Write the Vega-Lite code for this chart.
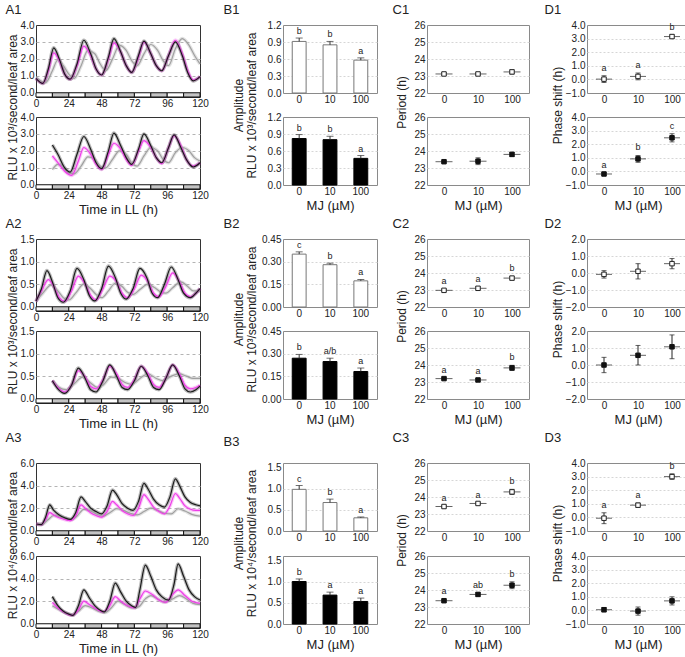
{
"$schema":"https://vega.github.io/schema/vega-lite/v6.json",
"padding":{"left":5,"top":3,"right":2,"bottom":2},
"config":{
 "font":"Liberation Sans",
 "view":{"stroke":"#8a8a8a"},
 "axis":{"labelFont":"Liberation Sans","labelFontSize":10,"labelColor":"#222","titleFont":"Liberation Sans","titleFontWeight":"normal","titleColor":"#222","domain":false,"ticks":false,"labelPadding":2,"labelOverlap":false,"labelFlush":false,"tickCount":20,"gridColor":"#d6d6d6","gridDash":[2,2],"gridWidth":1},
 "axisX":{"grid":false,"labelAngle":0,"titleFontSize":13,"titlePadding":3,"labelPadding":1},
 "axisY":{"titleFontSize":12},
 "title":{"fontSize":13,"fontWeight":"normal","anchor":"start","color":"#222","font":"Liberation Sans","offset":3}
},
"datasets":{
 "strip":[{"s":0,"e":12,"c":"d"},{"s":12,"e":24,"c":"n"},{"s":24,"e":36,"c":"d"},{"s":36,"e":48,"c":"n"},{"s":48,"e":60,"c":"d"},{"s":60,"e":72,"c":"n"},{"s":72,"e":84,"c":"d"},{"s":84,"e":96,"c":"n"},{"s":96,"e":108,"c":"d"},{"s":108,"e":120,"c":"n"}],
 "A1t":[
  {"g":"100","t":0,"v":0.9},{"g":"100","t":7,"v":0.6},{"g":"100","t":12,"v":1.3},{"g":"100","t":16,"v":1.95},{"g":"100","t":20,"v":1.6},{"g":"100","t":24,"v":1.1},{"g":"100","t":28,"v":0.85},{"g":"100","t":33,"v":1.6},{"g":"100","t":38,"v":2.5},{"g":"100","t":43,"v":2.3},{"g":"100","t":47,"v":1.7},{"g":"100","t":51,"v":1.3},{"g":"100","t":56,"v":2.0},{"g":"100","t":61,"v":2.8},{"g":"100","t":66,"v":2.5},{"g":"100","t":70,"v":1.9},{"g":"100","t":74,"v":1.6},{"g":"100","t":79,"v":2.3},{"g":"100","t":84,"v":2.85},{"g":"100","t":89,"v":2.5},{"g":"100","t":93,"v":1.9},{"g":"100","t":97,"v":1.6},{"g":"100","t":102,"v":2.6},{"g":"100","t":107,"v":3.2},{"g":"100","t":112,"v":2.8},{"g":"100","t":116,"v":2.2},{"g":"100","t":120,"v":1.7},
  {"g":"10","t":0,"v":0.85},{"g":"10","t":5,"v":0.55},{"g":"10","t":9,"v":1.3},{"g":"10","t":13,"v":2.35},{"g":"10","t":17,"v":1.9},{"g":"10","t":21,"v":1.1},{"g":"10","t":25,"v":0.8},{"g":"10","t":30,"v":1.6},{"g":"10","t":35,"v":2.75},{"g":"10","t":40,"v":2.2},{"g":"10","t":44,"v":1.4},{"g":"10","t":48,"v":1.05},{"g":"10","t":53,"v":2.0},{"g":"10","t":57,"v":2.95},{"g":"10","t":62,"v":2.4},{"g":"10","t":66,"v":1.6},{"g":"10","t":70,"v":1.2},{"g":"10","t":75,"v":2.1},{"g":"10","t":79,"v":3.0},{"g":"10","t":84,"v":2.3},{"g":"10","t":88,"v":1.6},{"g":"10","t":92,"v":1.3},{"g":"10","t":97,"v":2.2},{"g":"10","t":102,"v":3.1},{"g":"10","t":107,"v":2.3},{"g":"10","t":111,"v":1.3},{"g":"10","t":115,"v":0.75},{"g":"10","t":120,"v":0.95},
  {"g":"0","t":0,"v":0.85},{"g":"0","t":5,"v":0.55},{"g":"0","t":9,"v":1.4},{"g":"0","t":13,"v":2.65},{"g":"0","t":17,"v":2.0},{"g":"0","t":21,"v":1.1},{"g":"0","t":25,"v":0.8},{"g":"0","t":30,"v":1.7},{"g":"0","t":35,"v":3.1},{"g":"0","t":40,"v":2.3},{"g":"0","t":44,"v":1.4},{"g":"0","t":48,"v":1.05},{"g":"0","t":53,"v":2.1},{"g":"0","t":57,"v":3.2},{"g":"0","t":62,"v":2.4},{"g":"0","t":66,"v":1.6},{"g":"0","t":70,"v":1.2},{"g":"0","t":75,"v":2.2},{"g":"0","t":79,"v":3.05},{"g":"0","t":84,"v":2.3},{"g":"0","t":88,"v":1.6},{"g":"0","t":92,"v":1.3},{"g":"0","t":97,"v":2.2},{"g":"0","t":102,"v":3.0},{"g":"0","t":107,"v":2.2},{"g":"0","t":111,"v":1.2},{"g":"0","t":115,"v":0.7},{"g":"0","t":120,"v":0.95}
 ],
 "A1b":[
  {"g":"100","t":12,"v":0.9},{"g":"100","t":16,"v":1.2},{"g":"100","t":20,"v":1.05},{"g":"100","t":24,"v":0.7},{"g":"100","t":28,"v":0.65},{"g":"100","t":33,"v":1.1},{"g":"100","t":38,"v":1.65},{"g":"100","t":43,"v":1.5},{"g":"100","t":47,"v":1.1},{"g":"100","t":51,"v":1.0},{"g":"100","t":56,"v":1.5},{"g":"100","t":61,"v":2.0},{"g":"100","t":66,"v":1.8},{"g":"100","t":70,"v":1.3},{"g":"100","t":74,"v":1.1},{"g":"100","t":79,"v":1.7},{"g":"100","t":84,"v":2.2},{"g":"100","t":89,"v":2.0},{"g":"100","t":93,"v":1.5},{"g":"100","t":97,"v":1.3},{"g":"100","t":102,"v":1.9},{"g":"100","t":107,"v":2.2},{"g":"100","t":112,"v":2.0},{"g":"100","t":116,"v":1.6},{"g":"100","t":120,"v":1.4},
  {"g":"10","t":12,"v":1.7},{"g":"10","t":16,"v":1.3},{"g":"10","t":21,"v":0.8},{"g":"10","t":26,"v":0.55},{"g":"10","t":31,"v":1.4},{"g":"10","t":35,"v":2.2},{"g":"10","t":40,"v":1.8},{"g":"10","t":44,"v":1.2},{"g":"10","t":48,"v":0.9},{"g":"10","t":53,"v":1.8},{"g":"10","t":57,"v":2.45},{"g":"10","t":62,"v":2.1},{"g":"10","t":66,"v":1.5},{"g":"10","t":70,"v":1.15},{"g":"10","t":75,"v":2.0},{"g":"10","t":79,"v":2.6},{"g":"10","t":84,"v":2.2},{"g":"10","t":88,"v":1.6},{"g":"10","t":92,"v":1.25},{"g":"10","t":97,"v":2.2},{"g":"10","t":101,"v":2.9},{"g":"10","t":106,"v":2.3},{"g":"10","t":110,"v":1.5},{"g":"10","t":115,"v":1.1},{"g":"10","t":120,"v":1.3},
  {"g":"0","t":12,"v":2.35},{"g":"0","t":16,"v":1.8},{"g":"0","t":21,"v":1.0},{"g":"0","t":25,"v":0.75},{"g":"0","t":30,"v":1.8},{"g":"0","t":35,"v":2.85},{"g":"0","t":40,"v":2.1},{"g":"0","t":44,"v":1.3},{"g":"0","t":48,"v":0.95},{"g":"0","t":53,"v":2.0},{"g":"0","t":57,"v":3.05},{"g":"0","t":62,"v":2.3},{"g":"0","t":66,"v":1.6},{"g":"0","t":70,"v":1.2},{"g":"0","t":75,"v":2.1},{"g":"0","t":79,"v":3.0},{"g":"0","t":84,"v":2.3},{"g":"0","t":88,"v":1.6},{"g":"0","t":92,"v":1.3},{"g":"0","t":97,"v":2.2},{"g":"0","t":101,"v":2.95},{"g":"0","t":106,"v":2.2},{"g":"0","t":110,"v":1.5},{"g":"0","t":115,"v":1.05},{"g":"0","t":120,"v":1.3}
 ],
 "A2t":[
  {"g":"100","t":0,"v":0.12},{"g":"100","t":5,"v":0.3},{"g":"100","t":11,"v":0.48},{"g":"100","t":16,"v":0.35},{"g":"100","t":20,"v":0.2},{"g":"100","t":24,"v":0.15},{"g":"100","t":29,"v":0.3},{"g":"100","t":35,"v":0.5},{"g":"100","t":40,"v":0.4},{"g":"100","t":44,"v":0.27},{"g":"100","t":48,"v":0.2},{"g":"100","t":53,"v":0.35},{"g":"100","t":58,"v":0.52},{"g":"100","t":63,"v":0.45},{"g":"100","t":67,"v":0.32},{"g":"100","t":71,"v":0.27},{"g":"100","t":76,"v":0.38},{"g":"100","t":82,"v":0.5},{"g":"100","t":87,"v":0.42},{"g":"100","t":91,"v":0.33},{"g":"100","t":95,"v":0.3},{"g":"100","t":100,"v":0.42},{"g":"100","t":106,"v":0.55},{"g":"100","t":111,"v":0.45},{"g":"100","t":115,"v":0.35},{"g":"100","t":120,"v":0.35},
  {"g":"10","t":0,"v":0.12},{"g":"10","t":4,"v":0.35},{"g":"10","t":9,"v":0.6},{"g":"10","t":13,"v":0.45},{"g":"10","t":17,"v":0.2},{"g":"10","t":21,"v":0.12},{"g":"10","t":26,"v":0.35},{"g":"10","t":31,"v":0.68},{"g":"10","t":36,"v":0.5},{"g":"10","t":40,"v":0.25},{"g":"10","t":44,"v":0.15},{"g":"10","t":49,"v":0.4},{"g":"10","t":54,"v":0.68},{"g":"10","t":59,"v":0.55},{"g":"10","t":63,"v":0.3},{"g":"10","t":67,"v":0.2},{"g":"10","t":72,"v":0.4},{"g":"10","t":77,"v":0.7},{"g":"10","t":82,"v":0.55},{"g":"10","t":86,"v":0.3},{"g":"10","t":90,"v":0.22},{"g":"10","t":95,"v":0.45},{"g":"10","t":100,"v":0.75},{"g":"10","t":105,"v":0.55},{"g":"10","t":109,"v":0.3},{"g":"10","t":113,"v":0.22},{"g":"10","t":117,"v":0.3},{"g":"10","t":120,"v":0.4},
  {"g":"0","t":0,"v":0.12},{"g":"0","t":4,"v":0.4},{"g":"0","t":8,"v":0.8},{"g":"0","t":12,"v":0.55},{"g":"0","t":16,"v":0.2},{"g":"0","t":20,"v":0.1},{"g":"0","t":25,"v":0.35},{"g":"0","t":30,"v":0.85},{"g":"0","t":35,"v":0.6},{"g":"0","t":39,"v":0.25},{"g":"0","t":43,"v":0.13},{"g":"0","t":48,"v":0.4},{"g":"0","t":53,"v":0.9},{"g":"0","t":58,"v":0.65},{"g":"0","t":62,"v":0.3},{"g":"0","t":66,"v":0.17},{"g":"0","t":71,"v":0.4},{"g":"0","t":76,"v":0.85},{"g":"0","t":81,"v":0.65},{"g":"0","t":85,"v":0.3},{"g":"0","t":89,"v":0.2},{"g":"0","t":94,"v":0.5},{"g":"0","t":99,"v":0.88},{"g":"0","t":104,"v":0.6},{"g":"0","t":108,"v":0.3},{"g":"0","t":113,"v":0.2},{"g":"0","t":117,"v":0.3},{"g":"0","t":120,"v":0.4}
 ],
 "A2b":[
  {"g":"100","t":12,"v":0.4},{"g":"100","t":17,"v":0.25},{"g":"100","t":22,"v":0.2},{"g":"100","t":28,"v":0.33},{"g":"100","t":34,"v":0.48},{"g":"100","t":40,"v":0.35},{"g":"100","t":45,"v":0.25},{"g":"100","t":49,"v":0.3},{"g":"100","t":55,"v":0.48},{"g":"100","t":60,"v":0.45},{"g":"100","t":66,"v":0.35},{"g":"100","t":70,"v":0.32},{"g":"100","t":76,"v":0.45},{"g":"100","t":82,"v":0.55},{"g":"100","t":88,"v":0.45},{"g":"100","t":93,"v":0.4},{"g":"100","t":99,"v":0.5},{"g":"100","t":105,"v":0.55},{"g":"100","t":110,"v":0.5},{"g":"100","t":115,"v":0.45},{"g":"100","t":120,"v":0.45},
  {"g":"10","t":12,"v":0.4},{"g":"10","t":16,"v":0.25},{"g":"10","t":21,"v":0.15},{"g":"10","t":26,"v":0.3},{"g":"10","t":31,"v":0.62},{"g":"10","t":36,"v":0.48},{"g":"10","t":40,"v":0.27},{"g":"10","t":44,"v":0.22},{"g":"10","t":49,"v":0.42},{"g":"10","t":54,"v":0.72},{"g":"10","t":59,"v":0.55},{"g":"10","t":63,"v":0.32},{"g":"10","t":67,"v":0.25},{"g":"10","t":72,"v":0.42},{"g":"10","t":77,"v":0.72},{"g":"10","t":82,"v":0.55},{"g":"10","t":86,"v":0.32},{"g":"10","t":90,"v":0.25},{"g":"10","t":95,"v":0.45},{"g":"10","t":100,"v":0.75},{"g":"10","t":105,"v":0.55},{"g":"10","t":109,"v":0.3},{"g":"10","t":113,"v":0.22},{"g":"10","t":117,"v":0.25},{"g":"10","t":120,"v":0.3},
  {"g":"0","t":12,"v":0.4},{"g":"0","t":16,"v":0.22},{"g":"0","t":21,"v":0.12},{"g":"0","t":26,"v":0.3},{"g":"0","t":31,"v":0.68},{"g":"0","t":36,"v":0.45},{"g":"0","t":40,"v":0.2},{"g":"0","t":44,"v":0.15},{"g":"0","t":49,"v":0.4},{"g":"0","t":54,"v":0.75},{"g":"0","t":59,"v":0.5},{"g":"0","t":63,"v":0.25},{"g":"0","t":67,"v":0.2},{"g":"0","t":72,"v":0.4},{"g":"0","t":77,"v":0.72},{"g":"0","t":82,"v":0.5},{"g":"0","t":86,"v":0.25},{"g":"0","t":90,"v":0.2},{"g":"0","t":95,"v":0.45},{"g":"0","t":100,"v":0.75},{"g":"0","t":105,"v":0.5},{"g":"0","t":109,"v":0.22},{"g":"0","t":113,"v":0.15},{"g":"0","t":117,"v":0.2},{"g":"0","t":120,"v":0.28}
 ],
 "A3t":[
  {"g":"100","t":0,"v":0.6},{"g":"100","t":5,"v":0.6},{"g":"100","t":9,"v":1.0},{"g":"100","t":13,"v":1.35},{"g":"100","t":17,"v":1.3},{"g":"100","t":21,"v":1.15},{"g":"100","t":26,"v":1.0},{"g":"100","t":30,"v":1.3},{"g":"100","t":35,"v":1.9},{"g":"100","t":39,"v":1.8},{"g":"100","t":44,"v":1.5},{"g":"100","t":49,"v":1.3},{"g":"100","t":54,"v":1.6},{"g":"100","t":59,"v":1.95},{"g":"100","t":64,"v":1.8},{"g":"100","t":69,"v":1.55},{"g":"100","t":74,"v":1.4},{"g":"100","t":79,"v":1.7},{"g":"100","t":84,"v":2.0},{"g":"100","t":89,"v":1.8},{"g":"100","t":94,"v":1.55},{"g":"100","t":99,"v":1.5},{"g":"100","t":104,"v":1.95},{"g":"100","t":109,"v":1.75},{"g":"100","t":114,"v":1.45},{"g":"100","t":120,"v":1.3},
  {"g":"10","t":0,"v":0.6},{"g":"10","t":4,"v":0.55},{"g":"10","t":7,"v":1.0},{"g":"10","t":10,"v":1.6},{"g":"10","t":13,"v":1.4},{"g":"10","t":17,"v":1.15},{"g":"10","t":21,"v":1.0},{"g":"10","t":25,"v":0.9},{"g":"10","t":29,"v":1.3},{"g":"10","t":33,"v":2.3},{"g":"10","t":36,"v":2.0},{"g":"10","t":40,"v":1.6},{"g":"10","t":44,"v":1.35},{"g":"10","t":48,"v":1.2},{"g":"10","t":52,"v":1.7},{"g":"10","t":56,"v":2.6},{"g":"10","t":59,"v":2.3},{"g":"10","t":63,"v":1.8},{"g":"10","t":67,"v":1.5},{"g":"10","t":71,"v":1.35},{"g":"10","t":75,"v":2.0},{"g":"10","t":79,"v":3.2},{"g":"10","t":82,"v":2.8},{"g":"10","t":86,"v":2.1},{"g":"10","t":90,"v":1.7},{"g":"10","t":94,"v":1.5},{"g":"10","t":98,"v":2.2},{"g":"10","t":102,"v":3.3},{"g":"10","t":105,"v":2.9},{"g":"10","t":109,"v":2.2},{"g":"10","t":113,"v":1.9},{"g":"10","t":117,"v":1.8},{"g":"10","t":120,"v":1.8},
  {"g":"0","t":0,"v":0.6},{"g":"0","t":4,"v":0.55},{"g":"0","t":7,"v":1.2},{"g":"0","t":10,"v":2.3},{"g":"0","t":13,"v":1.8},{"g":"0","t":17,"v":1.4},{"g":"0","t":21,"v":1.15},{"g":"0","t":25,"v":1.0},{"g":"0","t":29,"v":1.6},{"g":"0","t":33,"v":3.0},{"g":"0","t":36,"v":2.6},{"g":"0","t":40,"v":2.0},{"g":"0","t":44,"v":1.7},{"g":"0","t":48,"v":1.5},{"g":"0","t":52,"v":2.2},{"g":"0","t":56,"v":3.6},{"g":"0","t":59,"v":3.2},{"g":"0","t":63,"v":2.4},{"g":"0","t":67,"v":2.0},{"g":"0","t":71,"v":1.8},{"g":"0","t":75,"v":2.6},{"g":"0","t":79,"v":4.2},{"g":"0","t":82,"v":3.7},{"g":"0","t":86,"v":2.8},{"g":"0","t":90,"v":2.3},{"g":"0","t":94,"v":2.1},{"g":"0","t":98,"v":3.0},{"g":"0","t":102,"v":4.6},{"g":"0","t":105,"v":4.0},{"g":"0","t":109,"v":3.0},{"g":"0","t":113,"v":2.5},{"g":"0","t":117,"v":2.3},{"g":"0","t":120,"v":2.2}
 ],
 "A3b":[
  {"g":"100","t":12,"v":1.6},{"g":"100","t":16,"v":1.3},{"g":"100","t":21,"v":1.0},{"g":"100","t":26,"v":0.8},{"g":"100","t":31,"v":1.1},{"g":"100","t":36,"v":1.6},{"g":"100","t":41,"v":1.4},{"g":"100","t":46,"v":1.1},{"g":"100","t":51,"v":1.0},{"g":"100","t":55,"v":1.4},{"g":"100","t":60,"v":2.0},{"g":"100","t":65,"v":1.7},{"g":"100","t":70,"v":1.4},{"g":"100","t":75,"v":1.5},{"g":"100","t":80,"v":2.2},{"g":"100","t":84,"v":2.5},{"g":"100","t":89,"v":2.2},{"g":"100","t":94,"v":1.9},{"g":"100","t":100,"v":2.2},{"g":"100","t":105,"v":2.5},{"g":"100","t":110,"v":2.2},{"g":"100","t":115,"v":1.8},{"g":"100","t":120,"v":1.7},
  {"g":"10","t":12,"v":1.9},{"g":"10","t":16,"v":1.4},{"g":"10","t":21,"v":1.0},{"g":"10","t":26,"v":0.75},{"g":"10","t":31,"v":1.2},{"g":"10","t":35,"v":2.0},{"g":"10","t":39,"v":1.7},{"g":"10","t":44,"v":1.3},{"g":"10","t":49,"v":1.05},{"g":"10","t":54,"v":1.6},{"g":"10","t":58,"v":2.4},{"g":"10","t":62,"v":2.0},{"g":"10","t":67,"v":1.6},{"g":"10","t":72,"v":1.4},{"g":"10","t":76,"v":2.2},{"g":"10","t":80,"v":2.9},{"g":"10","t":85,"v":2.6},{"g":"10","t":90,"v":2.1},{"g":"10","t":95,"v":1.9},{"g":"10","t":100,"v":2.6},{"g":"10","t":104,"v":3.0},{"g":"10","t":109,"v":2.5},{"g":"10","t":114,"v":2.0},{"g":"10","t":120,"v":1.8},
  {"g":"0","t":12,"v":2.4},{"g":"0","t":16,"v":1.6},{"g":"0","t":20,"v":1.1},{"g":"0","t":24,"v":0.85},{"g":"0","t":27,"v":0.75},{"g":"0","t":31,"v":1.6},{"g":"0","t":35,"v":3.0},{"g":"0","t":39,"v":2.3},{"g":"0","t":43,"v":1.6},{"g":"0","t":47,"v":1.2},{"g":"0","t":50,"v":1.05},{"g":"0","t":54,"v":2.0},{"g":"0","t":58,"v":3.6},{"g":"0","t":62,"v":2.8},{"g":"0","t":66,"v":2.0},{"g":"0","t":70,"v":1.6},{"g":"0","t":73,"v":1.45},{"g":"0","t":76,"v":3.0},{"g":"0","t":80,"v":5.2},{"g":"0","t":84,"v":4.2},{"g":"0","t":88,"v":3.0},{"g":"0","t":92,"v":2.4},{"g":"0","t":97,"v":2.1},{"g":"0","t":101,"v":3.5},{"g":"0","t":104,"v":5.3},{"g":"0","t":108,"v":4.2},{"g":"0","t":112,"v":3.0},{"g":"0","t":116,"v":2.4},{"g":"0","t":120,"v":2.1}
 ],
 "bars":[
  {"p":"B1t","mj":"0","v":0.91,"hi":0.97,"l":"b"},{"p":"B1t","mj":"10","v":0.85,"hi":0.91,"l":"b"},{"p":"B1t","mj":"100","v":0.58,"hi":0.62,"l":"a"},
  {"p":"B1b","mj":"0","v":0.82,"hi":0.89,"l":"b"},{"p":"B1b","mj":"10","v":0.8,"hi":0.86,"l":"b"},{"p":"B1b","mj":"100","v":0.47,"hi":0.52,"l":"a"},
  {"p":"B2t","mj":"0","v":0.35,"hi":0.365,"l":"c"},{"p":"B2t","mj":"10","v":0.28,"hi":0.29,"l":"b"},{"p":"B2t","mj":"100","v":0.173,"hi":0.182,"l":"a"},
  {"p":"B2b","mj":"0","v":0.27,"hi":0.295,"l":"b"},{"p":"B2b","mj":"10","v":0.248,"hi":0.27,"l":"a/b"},{"p":"B2b","mj":"100","v":0.182,"hi":0.205,"l":"a"},
  {"p":"B3t","mj":"0","v":0.98,"hi":1.07,"l":"c"},{"p":"B3t","mj":"10","v":0.67,"hi":0.75,"l":"b"},{"p":"B3t","mj":"100","v":0.31,"hi":0.33,"l":"a"},
  {"p":"B3b","mj":"0","v":1.0,"hi":1.06,"l":"b"},{"p":"B3b","mj":"10","v":0.68,"hi":0.75,"l":"a"},{"p":"B3b","mj":"100","v":0.53,"hi":0.61,"l":"a"}
 ],
 "period":[
  {"p":"C1t","mj":"0","v":23.12,"lo":23.05,"hi":23.2,"l":""},{"p":"C1t","mj":"10","v":23.12,"lo":23.07,"hi":23.17,"l":""},{"p":"C1t","mj":"100","v":23.24,"lo":23.12,"hi":23.36,"l":""},
  {"p":"C1b","mj":"0","v":23.37,"lo":23.32,"hi":23.42,"l":""},{"p":"C1b","mj":"10","v":23.4,"lo":23.2,"hi":23.6,"l":""},{"p":"C1b","mj":"100","v":23.8,"lo":23.68,"hi":23.92,"l":""},
  {"p":"C2t","mj":"0","v":22.98,"lo":22.93,"hi":23.03,"l":"a"},{"p":"C2t","mj":"10","v":23.1,"lo":23.02,"hi":23.18,"l":"a"},{"p":"C2t","mj":"100","v":23.7,"lo":23.6,"hi":23.8,"l":"b"},
  {"p":"C2b","mj":"0","v":23.2,"lo":23.15,"hi":23.25,"l":"a"},{"p":"C2b","mj":"10","v":23.12,"lo":23.04,"hi":23.2,"l":"a"},{"p":"C2b","mj":"100","v":23.83,"lo":23.68,"hi":23.98,"l":"b"},
  {"p":"C3t","mj":"0","v":23.44,"lo":23.39,"hi":23.49,"l":"a"},{"p":"C3t","mj":"10","v":23.62,"lo":23.57,"hi":23.67,"l":"a"},{"p":"C3t","mj":"100","v":24.3,"lo":24.15,"hi":24.45,"l":"b"},
  {"p":"C3b","mj":"0","v":23.37,"lo":23.29,"hi":23.45,"l":"a"},{"p":"C3b","mj":"10","v":23.74,"lo":23.64,"hi":23.84,"l":"ab"},{"p":"C3b","mj":"100","v":24.28,"lo":24.08,"hi":24.48,"l":"b"}
 ],
 "phase":[
  {"p":"D1t","mj":"0","v":0.02,"lo":-0.23,"hi":0.27,"l":"a"},{"p":"D1t","mj":"10","v":0.22,"lo":-0.03,"hi":0.47,"l":"a"},{"p":"D1t","mj":"100","v":3.15,"lo":3.03,"hi":3.27,"l":"b"},
  {"p":"D1b","mj":"0","v":-0.19,"lo":-0.29,"hi":-0.09,"l":"a"},{"p":"D1b","mj":"10","v":0.92,"lo":0.67,"hi":1.17,"l":"b"},{"p":"D1b","mj":"100","v":2.47,"lo":2.17,"hi":2.77,"l":"c"},
  {"p":"D2t","mj":"0","v":-0.08,"lo":-0.3,"hi":0.14,"l":""},{"p":"D2t","mj":"10","v":0.1,"lo":-0.35,"hi":0.55,"l":""},{"p":"D2t","mj":"100","v":0.55,"lo":0.25,"hi":0.85,"l":""},
  {"p":"D2b","mj":"0","v":0.0,"lo":-0.45,"hi":0.45,"l":""},{"p":"D2b","mj":"10","v":0.57,"lo":0.0,"hi":1.15,"l":""},{"p":"D2b","mj":"100","v":1.07,"lo":0.37,"hi":1.77,"l":""},
  {"p":"D3t","mj":"0","v":-0.06,"lo":-0.46,"hi":0.34,"l":"a"},{"p":"D3t","mj":"10","v":0.9,"lo":0.75,"hi":1.05,"l":"a"},{"p":"D3t","mj":"100","v":3.0,"lo":2.8,"hi":3.2,"l":"b"},
  {"p":"D3b","mj":"0","v":0.05,"lo":-0.1,"hi":0.2,"l":""},{"p":"D3b","mj":"10","v":-0.05,"lo":-0.35,"hi":0.25,"l":""},{"p":"D3b","mj":"100","v":0.7,"lo":0.4,"hi":1.0,"l":""}
 ]
},
"spacing":0,
"vconcat":[
 {"hconcat":[
  {"title":{"text":"A1"},"bounds":"flush","spacing":20,"vconcat":[
   {"width":164,"height":72,"view":{"stroke":"#333"},"layer":[
    {"data":{"name":"A1t"},"layer":[
     {"mark":{"type":"line","strokeWidth":3.5,"opacity":0.3,"interpolate":"monotone"},"encoding":{"x":{"field":"t","type":"quantitative","scale":{"domain":[0,120],"nice":false},"axis":{"values":[0,24,48,72,96,120],"tickCount":20,"title":null}},"y":{"field":"v","type":"quantitative","scale":{"domain":[-0.25,4],"nice":false},"axis":{"orient":"left","values":[0,1,2,3,4],"tickCount":20,"format":".1f","gridDash":[3,3],"gridColor":"#b4b4b4","gridOpacity":{"condition":{"test":"datum.value==0||datum.value==4","value":0},"value":1},"title":"RLU x 10³/second/leaf area","titleX":-29,"titleY":82,"titleAlign":"center","titleBaseline":"top"}},"color":{"field":"g","type":"nominal","scale":{"domain":["0","10","100"],"range":["#1a1a1a","#ee3ee8","#a0a0a0"]},"legend":null}}},
     {"mark":{"type":"line","strokeWidth":1.2,"interpolate":"monotone"},"encoding":{"x":{"field":"t","type":"quantitative"},"y":{"field":"v","type":"quantitative"},"color":{"field":"g","type":"nominal","legend":null}}}
    ]},
    {"data":{"name":"strip"},"mark":{"type":"rect","stroke":"#111","strokeWidth":1},"encoding":{"x":{"field":"s","type":"quantitative","axis":{"values":[0,24,48,72,96,120],"tickCount":20,"title":null}},"x2":{"field":"e"},"y":{"datum":0,"type":"quantitative","scale":{"domain":[0,17]},"axis":null},"y2":{"datum":1},"color":{"field":"c","type":"nominal","scale":{"domain":["d","n"],"range":["#ffffff","#c4c4c4"]},"legend":null}}}
   ],"resolve":{"scale":{"y":"independent","color":"independent"}}},
   {"width":164,"height":72,"view":{"stroke":"#333"},"layer":[
    {"data":{"name":"A1b"},"layer":[
     {"mark":{"type":"line","strokeWidth":3.5,"opacity":0.3,"interpolate":"monotone"},"encoding":{"x":{"field":"t","type":"quantitative","scale":{"domain":[0,120],"nice":false},"axis":{"values":[0,24,48,72,96,120],"tickCount":20,"title":"Time in LL (h)"}},"y":{"field":"v","type":"quantitative","scale":{"domain":[-0.25,4],"nice":false},"axis":{"orient":"left","values":[0,1,2,3,4],"tickCount":20,"format":".1f","gridDash":[3,3],"gridColor":"#b4b4b4","gridOpacity":{"condition":{"test":"datum.value==0||datum.value==4","value":0},"value":1},"title":null}},"color":{"field":"g","type":"nominal","scale":{"domain":["0","10","100"],"range":["#1a1a1a","#ee3ee8","#a0a0a0"]},"legend":null}}},
     {"mark":{"type":"line","strokeWidth":1.2,"interpolate":"monotone"},"encoding":{"x":{"field":"t","type":"quantitative"},"y":{"field":"v","type":"quantitative"},"color":{"field":"g","type":"nominal","legend":null}}}
    ]},
    {"data":{"name":"strip"},"mark":{"type":"rect","stroke":"#111","strokeWidth":1},"encoding":{"x":{"field":"s","type":"quantitative","axis":{"values":[0,24,48,72,96,120],"tickCount":20,"title":"Time in LL (h)"}},"x2":{"field":"e"},"y":{"datum":0,"type":"quantitative","scale":{"domain":[0,17]},"axis":null},"y2":{"datum":1},"color":{"field":"c","type":"nominal","scale":{"domain":["d","n"],"range":["#ffffff","#c4c4c4"]},"legend":null}}}
   ],"resolve":{"scale":{"y":"independent","color":"independent"}}}
  ]},
  {"title":{"text":"B1","dx":-8},"bounds":"flush","spacing":24,"vconcat":[
   {"width":94,"height":68,"data":{"name":"bars"},"transform":[{"filter":"datum.p=='B1t'"}],"encoding":{"x":{"field":"mj","type":"nominal","sort":["0","10","100"],"scale":{"paddingInner":0.55,"paddingOuter":0.3},"axis":{"title":null}}},"layer":[
    {"mark":{"type":"bar","fill":"#ffffff","stroke":"#777","strokeWidth":1},"encoding":{"y":{"field":"v","type":"quantitative","scale":{"domain":[0,1.2]},"axis":{"values":[0,0.3,0.6,0.9,1.2],"tickCount":20,"format":".1f","grid":true,"gridOpacity":{"condition":{"test":"datum.value==0||datum.value==1.2","value":0},"value":1},"title":["Amplitude","RLU x 10³/second/leaf area"],"titleX":-50,"titleY":80,"titleAlign":"center","titleBaseline":"top","titleLineHeight":13}}}},
    {"mark":{"type":"rule","color":"#333"},"encoding":{"y":{"field":"v","type":"quantitative"},"y2":{"field":"hi"}}},
    {"mark":{"type":"tick","color":"#333","size":7,"thickness":1},"encoding":{"y":{"field":"hi","type":"quantitative"}}},
    {"mark":{"type":"text","dy":-7,"fontSize":9,"color":"#222"},"encoding":{"y":{"field":"hi","type":"quantitative"},"text":{"field":"l"}}}
   ]},
   {"width":94,"height":68,"data":{"name":"bars"},"transform":[{"filter":"datum.p=='B1b'"}],"encoding":{"x":{"field":"mj","type":"nominal","sort":["0","10","100"],"scale":{"paddingInner":0.55,"paddingOuter":0.3},"axis":{"title":"MJ (µM)"}}},"layer":[
    {"mark":{"type":"bar","fill":"#000000","stroke":"#000","strokeWidth":1},"encoding":{"y":{"field":"v","type":"quantitative","scale":{"domain":[0,1.2]},"axis":{"values":[0,0.3,0.6,0.9,1.2],"tickCount":20,"format":".1f","grid":true,"gridOpacity":{"condition":{"test":"datum.value==0||datum.value==1.2","value":0},"value":1},"title":null}}}},
    {"mark":{"type":"rule","color":"#333"},"encoding":{"y":{"field":"v","type":"quantitative"},"y2":{"field":"hi"}}},
    {"mark":{"type":"tick","color":"#333","size":7,"thickness":1},"encoding":{"y":{"field":"hi","type":"quantitative"}}},
    {"mark":{"type":"text","dy":-7,"fontSize":9,"color":"#222"},"encoding":{"y":{"field":"hi","type":"quantitative"},"text":{"field":"l"}}}
   ]}
  ]},
  {"title":{"text":"C1","dx":-2},"bounds":"flush","spacing":24,"vconcat":[
   {"width":102,"height":68,"data":{"name":"period"},"transform":[{"filter":"datum.p=='C1t'"}],"encoding":{"x":{"field":"mj","type":"ordinal","sort":["0","10","100"],"scale":{"type":"point","padding":0.5},"axis":{"title":null}}},"layer":[
    {"mark":{"type":"tick","size":17,"thickness":1,"color":"#222"},"encoding":{"y":{"field":"v","type":"quantitative","scale":{"domain":[22,26]},"axis":{"values":[22,23,24,25,26],"tickCount":20,"format":"d","grid":true,"gridOpacity":{"condition":{"test":"datum.value==22||datum.value==26","value":0},"value":1},"title":"Period (h)","titleX":-31,"titleY":77,"titleAlign":"center","titleBaseline":"top"}}}},
    {"mark":{"type":"rule","color":"#222"},"encoding":{"y":{"field":"lo","type":"quantitative"},"y2":{"field":"hi"}}},
    {"mark":{"type":"tick","size":5,"thickness":1,"color":"#222"},"encoding":{"y":{"field":"lo","type":"quantitative"}}},
    {"mark":{"type":"tick","size":5,"thickness":1,"color":"#222"},"encoding":{"y":{"field":"hi","type":"quantitative"}}},
    {"mark":{"type":"point","shape":"square","size":20,"filled":true,"fill":"#fff","stroke":"#222","strokeWidth":1,"opacity":1},"encoding":{"y":{"field":"v","type":"quantitative"}}},
    {"mark":{"type":"text","dy":-8,"fontSize":9,"color":"#222"},"encoding":{"y":{"field":"hi","type":"quantitative"},"text":{"field":"l"}}}
   ]},
   {"width":102,"height":68,"data":{"name":"period"},"transform":[{"filter":"datum.p=='C1b'"}],"encoding":{"x":{"field":"mj","type":"ordinal","sort":["0","10","100"],"scale":{"type":"point","padding":0.5},"axis":{"title":"MJ (µM)"}}},"layer":[
    {"mark":{"type":"tick","size":17,"thickness":1,"color":"#222"},"encoding":{"y":{"field":"v","type":"quantitative","scale":{"domain":[22,26]},"axis":{"values":[22,23,24,25,26],"tickCount":20,"format":"d","grid":true,"gridOpacity":{"condition":{"test":"datum.value==22||datum.value==26","value":0},"value":1},"title":null}}}},
    {"mark":{"type":"rule","color":"#222"},"encoding":{"y":{"field":"lo","type":"quantitative"},"y2":{"field":"hi"}}},
    {"mark":{"type":"tick","size":5,"thickness":1,"color":"#222"},"encoding":{"y":{"field":"lo","type":"quantitative"}}},
    {"mark":{"type":"tick","size":5,"thickness":1,"color":"#222"},"encoding":{"y":{"field":"hi","type":"quantitative"}}},
    {"mark":{"type":"point","shape":"square","size":20,"filled":true,"fill":"#111","stroke":"#111","strokeWidth":1,"opacity":1},"encoding":{"y":{"field":"v","type":"quantitative"}}},
    {"mark":{"type":"text","dy":-8,"fontSize":9,"color":"#222"},"encoding":{"y":{"field":"hi","type":"quantitative"},"text":{"field":"l"}}}
   ]}
  ]},
  {"title":{"text":"D1","dx":-6},"bounds":"flush","spacing":24,"vconcat":[
   {"width":102,"height":68,"data":{"name":"phase"},"transform":[{"filter":"datum.p=='D1t'"}],"encoding":{"x":{"field":"mj","type":"ordinal","sort":["0","10","100"],"scale":{"type":"point","padding":0.5},"axis":{"title":null}}},"layer":[
    {"mark":{"type":"tick","size":16,"thickness":1,"color":"#222"},"encoding":{"y":{"field":"v","type":"quantitative","scale":{"domain":[-1,4]},"axis":{"values":[-1,0,1,2,3,4],"tickCount":20,"format":".1f","grid":true,"gridOpacity":{"condition":{"test":"datum.value==-1||datum.value==4","value":0},"value":1},"title":"Phase shift (h)","titleX":-35,"titleY":80,"titleAlign":"center","titleBaseline":"top"}}}},
    {"mark":{"type":"rule","color":"#222"},"encoding":{"y":{"field":"lo","type":"quantitative"},"y2":{"field":"hi"}}},
    {"mark":{"type":"tick","size":5,"thickness":1,"color":"#222"},"encoding":{"y":{"field":"lo","type":"quantitative"}}},
    {"mark":{"type":"tick","size":5,"thickness":1,"color":"#222"},"encoding":{"y":{"field":"hi","type":"quantitative"}}},
    {"mark":{"type":"point","shape":"square","size":20,"filled":true,"fill":"#fff","stroke":"#222","strokeWidth":1,"opacity":1},"encoding":{"y":{"field":"v","type":"quantitative"}}},
    {"mark":{"type":"text","dy":-8,"fontSize":9,"color":"#222"},"encoding":{"y":{"field":"hi","type":"quantitative"},"text":{"field":"l"}}}
   ]},
   {"width":102,"height":68,"data":{"name":"phase"},"transform":[{"filter":"datum.p=='D1b'"}],"encoding":{"x":{"field":"mj","type":"ordinal","sort":["0","10","100"],"scale":{"type":"point","padding":0.5},"axis":{"title":"MJ (µM)"}}},"layer":[
    {"mark":{"type":"tick","size":16,"thickness":1,"color":"#222"},"encoding":{"y":{"field":"v","type":"quantitative","scale":{"domain":[-1,4]},"axis":{"values":[-1,0,1,2,3,4],"tickCount":20,"format":".1f","grid":true,"gridOpacity":{"condition":{"test":"datum.value==-1||datum.value==4","value":0},"value":1},"title":null}}}},
    {"mark":{"type":"rule","color":"#222"},"encoding":{"y":{"field":"lo","type":"quantitative"},"y2":{"field":"hi"}}},
    {"mark":{"type":"tick","size":5,"thickness":1,"color":"#222"},"encoding":{"y":{"field":"lo","type":"quantitative"}}},
    {"mark":{"type":"tick","size":5,"thickness":1,"color":"#222"},"encoding":{"y":{"field":"hi","type":"quantitative"}}},
    {"mark":{"type":"point","shape":"square","size":20,"filled":true,"fill":"#111","stroke":"#111","strokeWidth":1,"opacity":1},"encoding":{"y":{"field":"v","type":"quantitative"}}},
    {"mark":{"type":"text","dy":-8,"fontSize":9,"color":"#222"},"encoding":{"y":{"field":"hi","type":"quantitative"},"text":{"field":"l"}}}
   ]}
  ]}
 ],"spacing":14},
 {"hconcat":[
  {"title":{"text":"A2"},"bounds":"flush","spacing":20,"vconcat":[
   {"width":164,"height":72,"view":{"stroke":"#333"},"layer":[
    {"data":{"name":"A2t"},"layer":[
     {"mark":{"type":"line","strokeWidth":3.5,"opacity":0.3,"interpolate":"monotone"},"encoding":{"x":{"field":"t","type":"quantitative","scale":{"domain":[0,120],"nice":false},"axis":{"values":[0,24,48,72,96,120],"tickCount":20,"title":null}},"y":{"field":"v","type":"quantitative","scale":{"domain":[-0.094,1.5],"nice":false},"axis":{"orient":"left","values":[0,0.5,1,1.5],"tickCount":20,"format":".1f","gridDash":[3,3],"gridColor":"#b4b4b4","gridOpacity":{"condition":{"test":"datum.value==0||datum.value==1.5","value":0},"value":1},"title":"RLU x 10³/second/leaf area","titleX":-29,"titleY":82,"titleAlign":"center","titleBaseline":"top"}},"color":{"field":"g","type":"nominal","scale":{"domain":["0","10","100"],"range":["#1a1a1a","#ee3ee8","#a0a0a0"]},"legend":null}}},
     {"mark":{"type":"line","strokeWidth":1.2,"interpolate":"monotone"},"encoding":{"x":{"field":"t","type":"quantitative"},"y":{"field":"v","type":"quantitative"},"color":{"field":"g","type":"nominal","legend":null}}}
    ]},
    {"data":{"name":"strip"},"mark":{"type":"rect","stroke":"#111","strokeWidth":1},"encoding":{"x":{"field":"s","type":"quantitative","axis":{"values":[0,24,48,72,96,120],"tickCount":20,"title":null}},"x2":{"field":"e"},"y":{"datum":0,"type":"quantitative","scale":{"domain":[0,17]},"axis":null},"y2":{"datum":1},"color":{"field":"c","type":"nominal","scale":{"domain":["d","n"],"range":["#ffffff","#c4c4c4"]},"legend":null}}}
   ],"resolve":{"scale":{"y":"independent","color":"independent"}}},
   {"width":164,"height":72,"view":{"stroke":"#333"},"layer":[
    {"data":{"name":"A2b"},"layer":[
     {"mark":{"type":"line","strokeWidth":3.5,"opacity":0.3,"interpolate":"monotone"},"encoding":{"x":{"field":"t","type":"quantitative","scale":{"domain":[0,120],"nice":false},"axis":{"values":[0,24,48,72,96,120],"tickCount":20,"title":"Time in LL (h)"}},"y":{"field":"v","type":"quantitative","scale":{"domain":[-0.094,1.5],"nice":false},"axis":{"orient":"left","values":[0,0.5,1,1.5],"tickCount":20,"format":".1f","gridDash":[3,3],"gridColor":"#b4b4b4","gridOpacity":{"condition":{"test":"datum.value==0||datum.value==1.5","value":0},"value":1},"title":null}},"color":{"field":"g","type":"nominal","scale":{"domain":["0","10","100"],"range":["#1a1a1a","#ee3ee8","#a0a0a0"]},"legend":null}}},
     {"mark":{"type":"line","strokeWidth":1.2,"interpolate":"monotone"},"encoding":{"x":{"field":"t","type":"quantitative"},"y":{"field":"v","type":"quantitative"},"color":{"field":"g","type":"nominal","legend":null}}}
    ]},
    {"data":{"name":"strip"},"mark":{"type":"rect","stroke":"#111","strokeWidth":1},"encoding":{"x":{"field":"s","type":"quantitative","axis":{"values":[0,24,48,72,96,120],"tickCount":20,"title":"Time in LL (h)"}},"x2":{"field":"e"},"y":{"datum":0,"type":"quantitative","scale":{"domain":[0,17]},"axis":null},"y2":{"datum":1},"color":{"field":"c","type":"nominal","scale":{"domain":["d","n"],"range":["#ffffff","#c4c4c4"]},"legend":null}}}
   ],"resolve":{"scale":{"y":"independent","color":"independent"}}}
  ]},
  {"title":{"text":"B2","dx":-8},"bounds":"flush","spacing":24,"vconcat":[
   {"width":94,"height":68,"data":{"name":"bars"},"transform":[{"filter":"datum.p=='B2t'"}],"encoding":{"x":{"field":"mj","type":"nominal","sort":["0","10","100"],"scale":{"paddingInner":0.55,"paddingOuter":0.3},"axis":{"title":null}}},"layer":[
    {"mark":{"type":"bar","fill":"#ffffff","stroke":"#777","strokeWidth":1},"encoding":{"y":{"field":"v","type":"quantitative","scale":{"domain":[0,0.45]},"axis":{"values":[0,0.15,0.3,0.45],"tickCount":20,"format":".2f","grid":true,"gridOpacity":{"condition":{"test":"datum.value==0||datum.value==0.45","value":0},"value":1},"title":["Amplitude","RLU x 10³/second/leaf area"],"titleX":-50,"titleY":80,"titleAlign":"center","titleBaseline":"top","titleLineHeight":13}}}},
    {"mark":{"type":"rule","color":"#333"},"encoding":{"y":{"field":"v","type":"quantitative"},"y2":{"field":"hi"}}},
    {"mark":{"type":"tick","color":"#333","size":7,"thickness":1},"encoding":{"y":{"field":"hi","type":"quantitative"}}},
    {"mark":{"type":"text","dy":-7,"fontSize":9,"color":"#222"},"encoding":{"y":{"field":"hi","type":"quantitative"},"text":{"field":"l"}}}
   ]},
   {"width":94,"height":68,"data":{"name":"bars"},"transform":[{"filter":"datum.p=='B2b'"}],"encoding":{"x":{"field":"mj","type":"nominal","sort":["0","10","100"],"scale":{"paddingInner":0.55,"paddingOuter":0.3},"axis":{"title":"MJ (µM)"}}},"layer":[
    {"mark":{"type":"bar","fill":"#000000","stroke":"#000","strokeWidth":1},"encoding":{"y":{"field":"v","type":"quantitative","scale":{"domain":[0,0.45]},"axis":{"values":[0,0.15,0.3,0.45],"tickCount":20,"format":".2f","grid":true,"gridOpacity":{"condition":{"test":"datum.value==0||datum.value==0.45","value":0},"value":1},"title":null}}}},
    {"mark":{"type":"rule","color":"#333"},"encoding":{"y":{"field":"v","type":"quantitative"},"y2":{"field":"hi"}}},
    {"mark":{"type":"tick","color":"#333","size":7,"thickness":1},"encoding":{"y":{"field":"hi","type":"quantitative"}}},
    {"mark":{"type":"text","dy":-7,"fontSize":9,"color":"#222"},"encoding":{"y":{"field":"hi","type":"quantitative"},"text":{"field":"l"}}}
   ]}
  ]},
  {"title":{"text":"C2","dx":-2},"bounds":"flush","spacing":24,"vconcat":[
   {"width":102,"height":68,"data":{"name":"period"},"transform":[{"filter":"datum.p=='C2t'"}],"encoding":{"x":{"field":"mj","type":"ordinal","sort":["0","10","100"],"scale":{"type":"point","padding":0.5},"axis":{"title":null}}},"layer":[
    {"mark":{"type":"tick","size":17,"thickness":1,"color":"#222"},"encoding":{"y":{"field":"v","type":"quantitative","scale":{"domain":[22,26]},"axis":{"values":[22,23,24,25,26],"tickCount":20,"format":"d","grid":true,"gridOpacity":{"condition":{"test":"datum.value==22||datum.value==26","value":0},"value":1},"title":"Period (h)","titleX":-31,"titleY":77,"titleAlign":"center","titleBaseline":"top"}}}},
    {"mark":{"type":"rule","color":"#222"},"encoding":{"y":{"field":"lo","type":"quantitative"},"y2":{"field":"hi"}}},
    {"mark":{"type":"tick","size":5,"thickness":1,"color":"#222"},"encoding":{"y":{"field":"lo","type":"quantitative"}}},
    {"mark":{"type":"tick","size":5,"thickness":1,"color":"#222"},"encoding":{"y":{"field":"hi","type":"quantitative"}}},
    {"mark":{"type":"point","shape":"square","size":20,"filled":true,"fill":"#fff","stroke":"#222","strokeWidth":1,"opacity":1},"encoding":{"y":{"field":"v","type":"quantitative"}}},
    {"mark":{"type":"text","dy":-8,"fontSize":9,"color":"#222"},"encoding":{"y":{"field":"hi","type":"quantitative"},"text":{"field":"l"}}}
   ]},
   {"width":102,"height":68,"data":{"name":"period"},"transform":[{"filter":"datum.p=='C2b'"}],"encoding":{"x":{"field":"mj","type":"ordinal","sort":["0","10","100"],"scale":{"type":"point","padding":0.5},"axis":{"title":"MJ (µM)"}}},"layer":[
    {"mark":{"type":"tick","size":17,"thickness":1,"color":"#222"},"encoding":{"y":{"field":"v","type":"quantitative","scale":{"domain":[22,26]},"axis":{"values":[22,23,24,25,26],"tickCount":20,"format":"d","grid":true,"gridOpacity":{"condition":{"test":"datum.value==22||datum.value==26","value":0},"value":1},"title":null}}}},
    {"mark":{"type":"rule","color":"#222"},"encoding":{"y":{"field":"lo","type":"quantitative"},"y2":{"field":"hi"}}},
    {"mark":{"type":"tick","size":5,"thickness":1,"color":"#222"},"encoding":{"y":{"field":"lo","type":"quantitative"}}},
    {"mark":{"type":"tick","size":5,"thickness":1,"color":"#222"},"encoding":{"y":{"field":"hi","type":"quantitative"}}},
    {"mark":{"type":"point","shape":"square","size":20,"filled":true,"fill":"#111","stroke":"#111","strokeWidth":1,"opacity":1},"encoding":{"y":{"field":"v","type":"quantitative"}}},
    {"mark":{"type":"text","dy":-8,"fontSize":9,"color":"#222"},"encoding":{"y":{"field":"hi","type":"quantitative"},"text":{"field":"l"}}}
   ]}
  ]},
  {"title":{"text":"D2","dx":-6},"bounds":"flush","spacing":24,"vconcat":[
   {"width":102,"height":68,"data":{"name":"phase"},"transform":[{"filter":"datum.p=='D2t'"}],"encoding":{"x":{"field":"mj","type":"ordinal","sort":["0","10","100"],"scale":{"type":"point","padding":0.5},"axis":{"title":null}}},"layer":[
    {"mark":{"type":"tick","size":16,"thickness":1,"color":"#222"},"encoding":{"y":{"field":"v","type":"quantitative","scale":{"domain":[-2,2]},"axis":{"values":[-2,-1,0,1,2],"tickCount":20,"format":".1f","grid":true,"gridOpacity":{"condition":{"test":"datum.value==-2||datum.value==2","value":0},"value":1},"title":"Phase shift (h)","titleX":-35,"titleY":80,"titleAlign":"center","titleBaseline":"top"}}}},
    {"mark":{"type":"rule","color":"#222"},"encoding":{"y":{"field":"lo","type":"quantitative"},"y2":{"field":"hi"}}},
    {"mark":{"type":"tick","size":5,"thickness":1,"color":"#222"},"encoding":{"y":{"field":"lo","type":"quantitative"}}},
    {"mark":{"type":"tick","size":5,"thickness":1,"color":"#222"},"encoding":{"y":{"field":"hi","type":"quantitative"}}},
    {"mark":{"type":"point","shape":"square","size":20,"filled":true,"fill":"#fff","stroke":"#222","strokeWidth":1,"opacity":1},"encoding":{"y":{"field":"v","type":"quantitative"}}},
    {"mark":{"type":"text","dy":-8,"fontSize":9,"color":"#222"},"encoding":{"y":{"field":"hi","type":"quantitative"},"text":{"field":"l"}}}
   ]},
   {"width":102,"height":68,"data":{"name":"phase"},"transform":[{"filter":"datum.p=='D2b'"}],"encoding":{"x":{"field":"mj","type":"ordinal","sort":["0","10","100"],"scale":{"type":"point","padding":0.5},"axis":{"title":"MJ (µM)"}}},"layer":[
    {"mark":{"type":"tick","size":16,"thickness":1,"color":"#222"},"encoding":{"y":{"field":"v","type":"quantitative","scale":{"domain":[-2,2]},"axis":{"values":[-2,-1,0,1,2],"tickCount":20,"format":".1f","grid":true,"gridOpacity":{"condition":{"test":"datum.value==-2||datum.value==2","value":0},"value":1},"title":null}}}},
    {"mark":{"type":"rule","color":"#222"},"encoding":{"y":{"field":"lo","type":"quantitative"},"y2":{"field":"hi"}}},
    {"mark":{"type":"tick","size":5,"thickness":1,"color":"#222"},"encoding":{"y":{"field":"lo","type":"quantitative"}}},
    {"mark":{"type":"tick","size":5,"thickness":1,"color":"#222"},"encoding":{"y":{"field":"hi","type":"quantitative"}}},
    {"mark":{"type":"point","shape":"square","size":20,"filled":true,"fill":"#111","stroke":"#111","strokeWidth":1,"opacity":1},"encoding":{"y":{"field":"v","type":"quantitative"}}},
    {"mark":{"type":"text","dy":-8,"fontSize":9,"color":"#222"},"encoding":{"y":{"field":"hi","type":"quantitative"},"text":{"field":"l"}}}
   ]}
  ]}
 ],"spacing":14},
 {"hconcat":[
  {"title":{"text":"A3","offset":13},"bounds":"flush","spacing":21,"vconcat":[
   {"width":164,"height":72,"view":{"stroke":"#333"},"layer":[
    {"data":{"name":"A3t"},"layer":[
     {"mark":{"type":"line","strokeWidth":3.5,"opacity":0.3,"interpolate":"monotone"},"encoding":{"x":{"field":"t","type":"quantitative","scale":{"domain":[0,120],"nice":false},"axis":{"values":[0,24,48,72,96,120],"tickCount":20,"title":null}},"y":{"field":"v","type":"quantitative","scale":{"domain":[-0.375,6],"nice":false},"axis":{"orient":"left","values":[0,2,4,6],"tickCount":20,"format":".1f","gridDash":[3,3],"gridColor":"#b4b4b4","gridOpacity":{"condition":{"test":"datum.value==0||datum.value==6","value":0},"value":1},"title":"RLU x 10⁴/second/leaf area","titleX":-29,"titleY":82,"titleAlign":"center","titleBaseline":"top"}},"color":{"field":"g","type":"nominal","scale":{"domain":["0","10","100"],"range":["#1a1a1a","#ee3ee8","#a0a0a0"]},"legend":null}}},
     {"mark":{"type":"line","strokeWidth":1.2,"interpolate":"monotone"},"encoding":{"x":{"field":"t","type":"quantitative"},"y":{"field":"v","type":"quantitative"},"color":{"field":"g","type":"nominal","legend":null}}}
    ]},
    {"data":{"name":"strip"},"mark":{"type":"rect","stroke":"#111","strokeWidth":1},"encoding":{"x":{"field":"s","type":"quantitative","axis":{"values":[0,24,48,72,96,120],"tickCount":20,"title":null}},"x2":{"field":"e"},"y":{"datum":0,"type":"quantitative","scale":{"domain":[0,17]},"axis":null},"y2":{"datum":1},"color":{"field":"c","type":"nominal","scale":{"domain":["d","n"],"range":["#ffffff","#c4c4c4"]},"legend":null}}}
   ],"resolve":{"scale":{"y":"independent","color":"independent"}}},
   {"width":164,"height":72,"view":{"stroke":"#333"},"layer":[
    {"data":{"name":"A3b"},"layer":[
     {"mark":{"type":"line","strokeWidth":3.5,"opacity":0.3,"interpolate":"monotone"},"encoding":{"x":{"field":"t","type":"quantitative","scale":{"domain":[0,120],"nice":false},"axis":{"values":[0,24,48,72,96,120],"tickCount":20,"title":"Time in LL (h)"}},"y":{"field":"v","type":"quantitative","scale":{"domain":[-0.375,6],"nice":false},"axis":{"orient":"left","values":[0,2,4,6],"tickCount":20,"format":".1f","gridDash":[3,3],"gridColor":"#b4b4b4","gridOpacity":{"condition":{"test":"datum.value==0||datum.value==6","value":0},"value":1},"title":null}},"color":{"field":"g","type":"nominal","scale":{"domain":["0","10","100"],"range":["#1a1a1a","#ee3ee8","#a0a0a0"]},"legend":null}}},
     {"mark":{"type":"line","strokeWidth":1.2,"interpolate":"monotone"},"encoding":{"x":{"field":"t","type":"quantitative"},"y":{"field":"v","type":"quantitative"},"color":{"field":"g","type":"nominal","legend":null}}}
    ]},
    {"data":{"name":"strip"},"mark":{"type":"rect","stroke":"#111","strokeWidth":1},"encoding":{"x":{"field":"s","type":"quantitative","axis":{"values":[0,24,48,72,96,120],"tickCount":20,"title":"Time in LL (h)"}},"x2":{"field":"e"},"y":{"datum":0,"type":"quantitative","scale":{"domain":[0,17]},"axis":null},"y2":{"datum":1},"color":{"field":"c","type":"nominal","scale":{"domain":["d","n"],"range":["#ffffff","#c4c4c4"]},"legend":null}}}
   ],"resolve":{"scale":{"y":"independent","color":"independent"}}}
  ]},
  {"title":{"text":"B3","dx":-8,"offset":13},"bounds":"flush","spacing":25,"vconcat":[
   {"width":94,"height":68,"data":{"name":"bars"},"transform":[{"filter":"datum.p=='B3t'"}],"encoding":{"x":{"field":"mj","type":"nominal","sort":["0","10","100"],"scale":{"paddingInner":0.55,"paddingOuter":0.3},"axis":{"title":null}}},"layer":[
    {"mark":{"type":"bar","fill":"#ffffff","stroke":"#777","strokeWidth":1},"encoding":{"y":{"field":"v","type":"quantitative","scale":{"domain":[0,1.5]},"axis":{"values":[0,0.5,1,1.5],"tickCount":20,"format":".1f","grid":true,"gridOpacity":{"condition":{"test":"datum.value==0||datum.value==1.5","value":0},"value":1},"title":["Amplitude","RLU x 10⁴/second/leaf area"],"titleX":-50,"titleY":80,"titleAlign":"center","titleBaseline":"top","titleLineHeight":13}}}},
    {"mark":{"type":"rule","color":"#333"},"encoding":{"y":{"field":"v","type":"quantitative"},"y2":{"field":"hi"}}},
    {"mark":{"type":"tick","color":"#333","size":7,"thickness":1},"encoding":{"y":{"field":"hi","type":"quantitative"}}},
    {"mark":{"type":"text","dy":-7,"fontSize":9,"color":"#222"},"encoding":{"y":{"field":"hi","type":"quantitative"},"text":{"field":"l"}}}
   ]},
   {"width":94,"height":68,"data":{"name":"bars"},"transform":[{"filter":"datum.p=='B3b'"}],"encoding":{"x":{"field":"mj","type":"nominal","sort":["0","10","100"],"scale":{"paddingInner":0.55,"paddingOuter":0.3},"axis":{"title":"MJ (µM)"}}},"layer":[
    {"mark":{"type":"bar","fill":"#000000","stroke":"#000","strokeWidth":1},"encoding":{"y":{"field":"v","type":"quantitative","scale":{"domain":[0,1.5]},"axis":{"values":[0,0.5,1,1.5],"tickCount":20,"format":".1f","grid":true,"gridOpacity":{"condition":{"test":"datum.value==0||datum.value==1.5","value":0},"value":1},"title":null}}}},
    {"mark":{"type":"rule","color":"#333"},"encoding":{"y":{"field":"v","type":"quantitative"},"y2":{"field":"hi"}}},
    {"mark":{"type":"tick","color":"#333","size":7,"thickness":1},"encoding":{"y":{"field":"hi","type":"quantitative"}}},
    {"mark":{"type":"text","dy":-7,"fontSize":9,"color":"#222"},"encoding":{"y":{"field":"hi","type":"quantitative"},"text":{"field":"l"}}}
   ]}
  ]},
  {"title":{"text":"C3","dx":-2,"offset":13},"bounds":"flush","spacing":25,"vconcat":[
   {"width":102,"height":68,"data":{"name":"period"},"transform":[{"filter":"datum.p=='C3t'"}],"encoding":{"x":{"field":"mj","type":"ordinal","sort":["0","10","100"],"scale":{"type":"point","padding":0.5},"axis":{"title":null}}},"layer":[
    {"mark":{"type":"tick","size":17,"thickness":1,"color":"#222"},"encoding":{"y":{"field":"v","type":"quantitative","scale":{"domain":[22,26]},"axis":{"values":[22,23,24,25,26],"tickCount":20,"format":"d","grid":true,"gridOpacity":{"condition":{"test":"datum.value==22||datum.value==26","value":0},"value":1},"title":"Period (h)","titleX":-31,"titleY":77,"titleAlign":"center","titleBaseline":"top"}}}},
    {"mark":{"type":"rule","color":"#222"},"encoding":{"y":{"field":"lo","type":"quantitative"},"y2":{"field":"hi"}}},
    {"mark":{"type":"tick","size":5,"thickness":1,"color":"#222"},"encoding":{"y":{"field":"lo","type":"quantitative"}}},
    {"mark":{"type":"tick","size":5,"thickness":1,"color":"#222"},"encoding":{"y":{"field":"hi","type":"quantitative"}}},
    {"mark":{"type":"point","shape":"square","size":20,"filled":true,"fill":"#fff","stroke":"#222","strokeWidth":1,"opacity":1},"encoding":{"y":{"field":"v","type":"quantitative"}}},
    {"mark":{"type":"text","dy":-8,"fontSize":9,"color":"#222"},"encoding":{"y":{"field":"hi","type":"quantitative"},"text":{"field":"l"}}}
   ]},
   {"width":102,"height":68,"data":{"name":"period"},"transform":[{"filter":"datum.p=='C3b'"}],"encoding":{"x":{"field":"mj","type":"ordinal","sort":["0","10","100"],"scale":{"type":"point","padding":0.5},"axis":{"title":"MJ (µM)"}}},"layer":[
    {"mark":{"type":"tick","size":17,"thickness":1,"color":"#222"},"encoding":{"y":{"field":"v","type":"quantitative","scale":{"domain":[22,26]},"axis":{"values":[22,23,24,25,26],"tickCount":20,"format":"d","grid":true,"gridOpacity":{"condition":{"test":"datum.value==22||datum.value==26","value":0},"value":1},"title":null}}}},
    {"mark":{"type":"rule","color":"#222"},"encoding":{"y":{"field":"lo","type":"quantitative"},"y2":{"field":"hi"}}},
    {"mark":{"type":"tick","size":5,"thickness":1,"color":"#222"},"encoding":{"y":{"field":"lo","type":"quantitative"}}},
    {"mark":{"type":"tick","size":5,"thickness":1,"color":"#222"},"encoding":{"y":{"field":"hi","type":"quantitative"}}},
    {"mark":{"type":"point","shape":"square","size":20,"filled":true,"fill":"#111","stroke":"#111","strokeWidth":1,"opacity":1},"encoding":{"y":{"field":"v","type":"quantitative"}}},
    {"mark":{"type":"text","dy":-8,"fontSize":9,"color":"#222"},"encoding":{"y":{"field":"hi","type":"quantitative"},"text":{"field":"l"}}}
   ]}
  ]},
  {"title":{"text":"D3","dx":-6,"offset":13},"bounds":"flush","spacing":25,"vconcat":[
   {"width":102,"height":68,"data":{"name":"phase"},"transform":[{"filter":"datum.p=='D3t'"}],"encoding":{"x":{"field":"mj","type":"ordinal","sort":["0","10","100"],"scale":{"type":"point","padding":0.5},"axis":{"title":null}}},"layer":[
    {"mark":{"type":"tick","size":16,"thickness":1,"color":"#222"},"encoding":{"y":{"field":"v","type":"quantitative","scale":{"domain":[-1,4]},"axis":{"values":[-1,0,1,2,3,4],"tickCount":20,"format":".1f","grid":true,"gridOpacity":{"condition":{"test":"datum.value==-1||datum.value==4","value":0},"value":1},"title":"Phase shift (h)","titleX":-35,"titleY":80,"titleAlign":"center","titleBaseline":"top"}}}},
    {"mark":{"type":"rule","color":"#222"},"encoding":{"y":{"field":"lo","type":"quantitative"},"y2":{"field":"hi"}}},
    {"mark":{"type":"tick","size":5,"thickness":1,"color":"#222"},"encoding":{"y":{"field":"lo","type":"quantitative"}}},
    {"mark":{"type":"tick","size":5,"thickness":1,"color":"#222"},"encoding":{"y":{"field":"hi","type":"quantitative"}}},
    {"mark":{"type":"point","shape":"square","size":20,"filled":true,"fill":"#fff","stroke":"#222","strokeWidth":1,"opacity":1},"encoding":{"y":{"field":"v","type":"quantitative"}}},
    {"mark":{"type":"text","dy":-8,"fontSize":9,"color":"#222"},"encoding":{"y":{"field":"hi","type":"quantitative"},"text":{"field":"l"}}}
   ]},
   {"width":102,"height":68,"data":{"name":"phase"},"transform":[{"filter":"datum.p=='D3b'"}],"encoding":{"x":{"field":"mj","type":"ordinal","sort":["0","10","100"],"scale":{"type":"point","padding":0.5},"axis":{"title":"MJ (µM)"}}},"layer":[
    {"mark":{"type":"tick","size":16,"thickness":1,"color":"#222"},"encoding":{"y":{"field":"v","type":"quantitative","scale":{"domain":[-1,4]},"axis":{"values":[-1,0,1,2,3,4],"tickCount":20,"format":".1f","grid":true,"gridOpacity":{"condition":{"test":"datum.value==-1||datum.value==4","value":0},"value":1},"title":null}}}},
    {"mark":{"type":"rule","color":"#222"},"encoding":{"y":{"field":"lo","type":"quantitative"},"y2":{"field":"hi"}}},
    {"mark":{"type":"tick","size":5,"thickness":1,"color":"#222"},"encoding":{"y":{"field":"lo","type":"quantitative"}}},
    {"mark":{"type":"tick","size":5,"thickness":1,"color":"#222"},"encoding":{"y":{"field":"hi","type":"quantitative"}}},
    {"mark":{"type":"point","shape":"square","size":20,"filled":true,"fill":"#111","stroke":"#111","strokeWidth":1,"opacity":1},"encoding":{"y":{"field":"v","type":"quantitative"}}},
    {"mark":{"type":"text","dy":-8,"fontSize":9,"color":"#222"},"encoding":{"y":{"field":"hi","type":"quantitative"},"text":{"field":"l"}}}
   ]}
  ]}
 ],"spacing":14}
]
}
